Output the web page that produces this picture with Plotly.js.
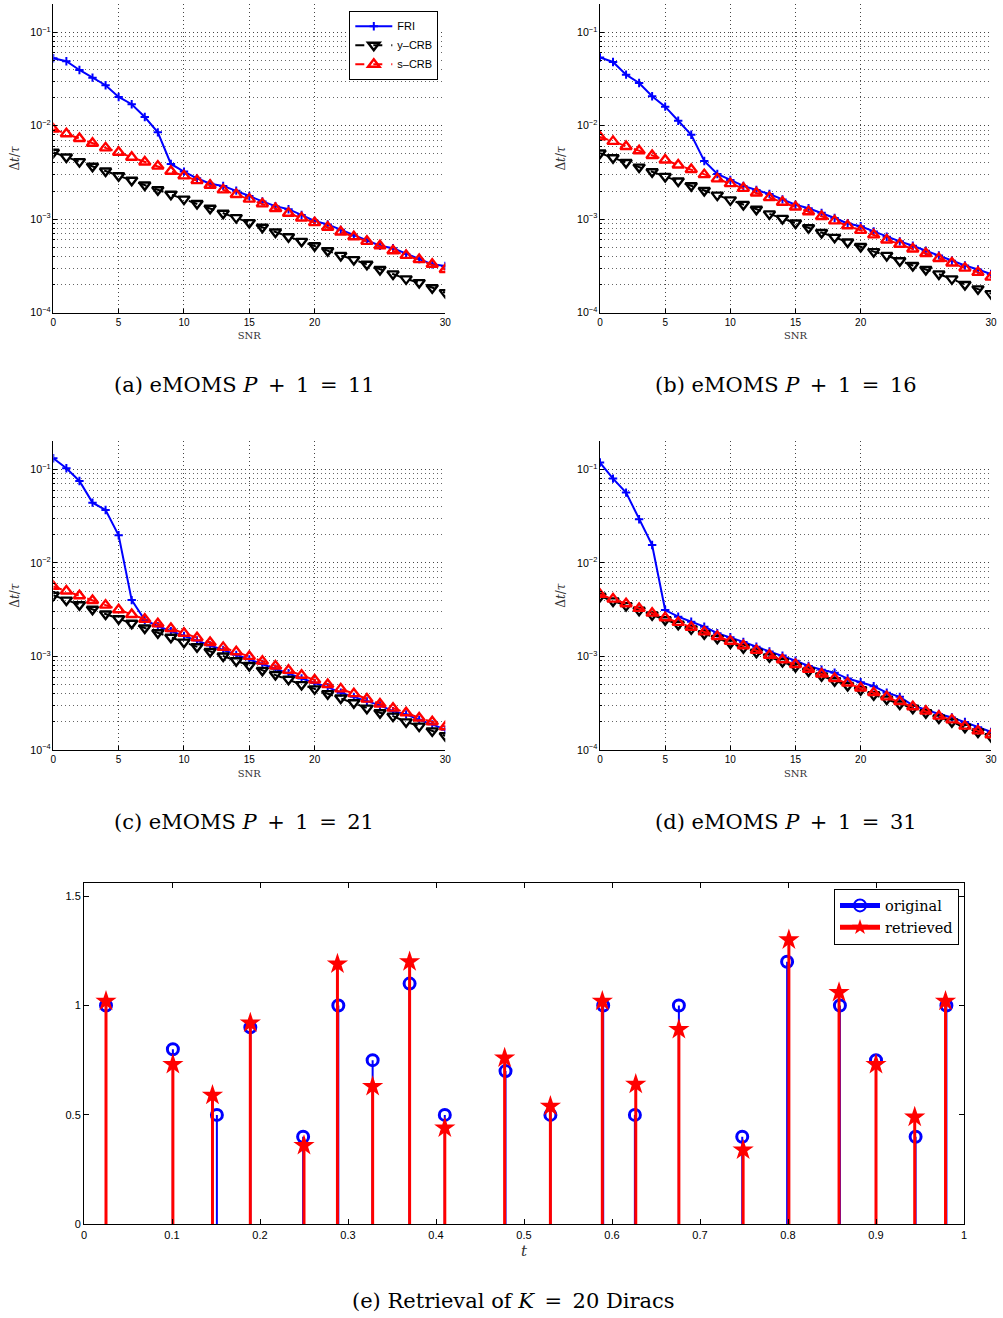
<!DOCTYPE html>
<html><head><meta charset="utf-8">
<script src="https://cdn.plot.ly/plotly-3.0.1.min.js"></script>
<style>body{margin:0;background:#fff}#chart{width:1003px;height:1318px}</style>
</head><body><div id="chart"></div><script>
// ---------- data ----------
const snr = [0,1,2,3,4,5,6,7,8,9,10,11,12,13,14,15,16,17,18,19,20,21,22,23,24,25,26,27,28,29,30];

const friA  = [0.0527,0.049,0.0395,0.0327,0.0271,0.0203,0.0170,0.0124,0.0085,0.0039,0.00323,0.00274,0.0024,0.00227,0.00202,0.00177,0.00155,0.00138,0.00128,0.00111,0.00096,0.00088,0.00077,0.00067,0.00059,0.00052,0.00049,0.000425,0.000375,0.000329,0.000316];
const ycrbA = [0.0052,0.00463,0.00413,0.00368,0.00328,0.00292,0.00261,0.00232,0.00207,0.00185,0.00164,0.00147,0.00131,0.00116,0.00104,0.00092,0.00082,0.00073,0.00065,0.00058,0.00052,0.00046,0.00041,0.00037,0.00033,0.00029,0.00026,0.00023,0.00021,0.000185,0.000164];
const scrbA = [0.0092,0.0082,0.0073,0.0065,0.0058,0.0052,0.0046,0.0041,0.0037,0.00326,0.00291,0.00259,0.00231,0.00206,0.00184,0.00164,0.00146,0.00130,0.00116,0.00103,0.00092,0.00082,0.00073,0.00065,0.00058,0.00052,0.00046,0.00041,0.00037,0.00033,0.00029];

const friB  = [0.0536,0.0481,0.0352,0.0287,0.0207,0.0160,0.0113,0.0080,0.0042,0.00305,0.00263,0.00227,0.00205,0.00186,0.00163,0.00143,0.00131,0.00117,0.00103,0.00090,0.00084,0.00074,0.00065,0.00058,0.00052,0.00046,0.00041,0.00036,0.00032,0.00029,0.000259];
const ycrbB = [0.0051,0.00455,0.00405,0.00361,0.00322,0.00287,0.00256,0.00228,0.00203,0.00181,0.00161,0.00144,0.00128,0.00114,0.00102,0.00091,0.00081,0.00072,0.00064,0.00057,0.00051,0.00045,0.00041,0.00036,0.00032,0.00029,0.00026,0.00023,0.00020,0.00018,0.00016];
const scrbB = [0.0076,0.0068,0.0060,0.0054,0.0048,0.0043,0.0038,0.0034,0.0030,0.0027,0.0024,0.00214,0.00191,0.00170,0.00152,0.00135,0.00120,0.00107,0.00096,0.00085,0.00076,0.00068,0.00060,0.00054,0.00048,0.00043,0.00038,0.00034,0.00030,0.00027,0.00024];

const friC  = [0.131,0.1026,0.075,0.044,0.0367,0.0197,0.0040,0.00245,0.0021,0.00186,0.00165,0.00148,0.00131,0.00117,0.00104,0.00093,0.00083,0.00074,0.00066,0.00058,0.00052,0.00047,0.00041,0.00037,0.00033,0.00030,0.00026,0.00024,0.00021,0.000188,0.000165];
const ycrbC = [0.0045,0.0040,0.00357,0.00319,0.00284,0.00253,0.00226,0.00201,0.00179,0.00160,0.00142,0.00127,0.00113,0.00101,0.00090,0.00080,0.00071,0.00064,0.00057,0.00050,0.00045,0.00040,0.00036,0.00032,0.00028,0.00025,0.00023,0.00020,0.00018,0.00016,0.000142];
const scrbC = [0.0056,0.0050,0.00445,0.00396,0.00353,0.00315,0.00281,0.00250,0.00223,0.00199,0.00177,0.00158,0.00141,0.00125,0.00112,0.00100,0.00089,0.00079,0.00071,0.00063,0.00056,0.00050,0.00045,0.00040,0.00035,0.00031,0.00028,0.00025,0.00022,0.00020,0.000177];

const friD  = [0.118,0.0795,0.0563,0.0292,0.0155,0.00313,0.00266,0.00235,0.00208,0.00177,0.00160,0.00143,0.00127,0.00113,0.00102,0.00090,0.00079,0.00072,0.00067,0.00058,0.00053,0.00048,0.00041,0.00037,0.00030,0.00027,0.000243,0.000223,0.000199,0.000175,0.000156];
const ycrbD = [0.0044,0.00392,0.00349,0.00311,0.00278,0.00247,0.00221,0.00197,0.00175,0.00156,0.00139,0.00124,0.00111,0.00099,0.00088,0.00078,0.00070,0.00062,0.00055,0.00049,0.00044,0.00039,0.00035,0.00031,0.00028,0.00025,0.00022,0.00020,0.000175,0.000156,0.000139];
const scrbD = [0.0046,0.0041,0.00365,0.00326,0.00290,0.00259,0.00231,0.00205,0.00183,0.00163,0.00145,0.00130,0.00116,0.00103,0.00092,0.00082,0.00073,0.00065,0.00058,0.00052,0.00046,0.00041,0.00037,0.00033,0.00029,0.00026,0.00023,0.00021,0.00018,0.00016,0.000145];

const tOrig = [0.025,0.101,0.151,0.189,0.249,0.289,0.328,0.370,0.410,0.479,0.530,0.590,0.626,0.676,0.748,0.799,0.859,0.900,0.945,0.980];
const aOrig = [1.0,0.8,0.5,0.9,0.4,1.0,0.75,1.1,0.5,0.7,0.5,1.0,0.5,1.0,0.4,1.2,1.0,0.75,0.4,1.0];
const tRetr = [0.025,0.101,0.146,0.189,0.250,0.288,0.328,0.370,0.410,0.478,0.530,0.589,0.627,0.676,0.749,0.801,0.858,0.900,0.944,0.979];
const aRetr = [1.02,0.73,0.59,0.92,0.36,1.19,0.63,1.20,0.44,0.76,0.54,1.02,0.64,0.89,0.34,1.30,1.06,0.73,0.49,1.02];

const snrTicks = [0,5,10,15,20,30];
const tTicks = [0,0.1,0.2,0.3,0.4,0.5,0.6,0.7,0.8,0.9,1];
const tTickText = ['0','0.1','0.2','0.3','0.4','0.5','0.6','0.7','0.8','0.9','1'];
const ampTicks = [0,0.5,1,1.5];
const ampTickText = ['0','0.5','1','1.5'];
const seriesNames = ['FRI','y\u2013CRB','s\u2013CRB'];
const stemNames = ['original','retrieved'];
const captions = [
  '(a) eMOMS <i>P</i>\u2002+\u20021\u2002=\u200211',
  '(b) eMOMS <i>P</i>\u2002+\u20021\u2002=\u200216',
  '(c) eMOMS <i>P</i>\u2002+\u20021\u2002=\u200221',
  '(d) eMOMS <i>P</i>\u2002+\u20021\u2002=\u200231',
  '(e) Retrieval of <i>K</i>\u2002=\u200220 Diracs'
];

// ---------- layout helpers ----------
const W = 1003, H = 1318;
const fx = p => p / W;
const fy = p => 1 - p / H;
const SANS = 'Liberation Sans, Arial, sans-serif';
const SERIF = 'DejaVu Serif, serif';
const DOTS = '1px,3px';

const panels = [
  {fri: friA, y: ycrbA, s: scrbA, x0: 53.3, x1: 445.3, top: 4.2,   bot: 312.7},
  {fri: friB, y: ycrbB, s: scrbB, x0: 600,  x1: 991,   top: 4.2,   bot: 312.7},
  {fri: friC, y: ycrbC, s: scrbC, x0: 53.3, x1: 445.3, top: 441.2, bot: 750},
  {fri: friD, y: ycrbD, s: scrbD, x0: 600,  x1: 991,   top: 441.2, bot: 750}
];

const traces = [];
const layout = {
  width: W, height: H, margin: {l: 0, r: 0, t: 0, b: 0},
  paper_bgcolor: '#fff', plot_bgcolor: '#fff', showlegend: true,
  annotations: [], font: {family: SANS, color: '#000'}
};

panels.forEach((p, i) => {
  const n = i + 1;
  const xa = n === 1 ? 'x' : 'x' + n, ya = n === 1 ? 'y' : 'y' + n;
  const first = i === 0;
  traces.push({x: snr, y: p.fri, xaxis: xa, yaxis: ya, name: seriesNames[0], mode: 'lines+markers',
    line: {color: '#0000ff', width: 2}, marker: {symbol: 'cross-thin', size: 6, line: {color: '#0000ff', width: 2}},
    showlegend: first, legend: 'legend'});
  traces.push({x: snr, y: p.y, xaxis: xa, yaxis: ya, name: seriesNames[1], mode: 'lines+markers',
    line: {color: '#000', width: 2, dash: 'dash'}, marker: {symbol: 'triangle-down-open', size: 10, color: '#000', line: {color: '#000', width: 2.4}},
    showlegend: first, legend: 'legend'});
  traces.push({x: snr, y: p.s, xaxis: xa, yaxis: ya, name: seriesNames[2], mode: 'lines+markers',
    line: {color: '#ff0000', width: 2, dash: 'dash'}, marker: {symbol: 'triangle-up-open', size: 10, color: '#ff0000', line: {color: '#ff0000', width: 2.4}},
    showlegend: first, legend: 'legend'});

  layout['xaxis' + (n === 1 ? '' : n)] = {
    domain: [fx(p.x0), fx(p.x1)], anchor: ya, range: [0, 30], tickmode: 'array', tickvals: snrTicks,
    ticks: 'inside', ticklen: 4, tickcolor: '#000', showline: true, linecolor: '#000', linewidth: 1,
    showgrid: true, gridcolor: '#444', griddash: DOTS, gridwidth: 1, zeroline: false,
    tickfont: {family: SANS, size: 10, color: '#000'},
    title: {text: 'SNR', font: {family: SERIF, size: 10, color: '#333'}, standoff: 5}
  };
  layout['yaxis' + (n === 1 ? '' : n)] = {
    domain: [fy(p.bot), fy(p.top)], anchor: xa, type: 'log', range: [-4, -0.7],
    dtick: 1, tick0: 0, exponentformat: 'power', showexponent: 'all',
    ticks: 'inside', ticklen: 4, tickcolor: '#000', showline: true, linecolor: '#000', linewidth: 1,
    showgrid: true, gridcolor: '#444', griddash: DOTS, gridwidth: 1, zeroline: false,
    minor: {dtick: 'D1', showgrid: true, gridcolor: '#666', griddash: DOTS, gridwidth: 1, ticks: 'inside', ticklen: 2, tickcolor: '#000'},
    tickfont: {family: SANS, size: 8.5, color: '#000'},
    title: {text: '\u0394<i>t</i>/<i>\u03c4</i>', font: {family: SERIF, size: 12, color: '#333'}, standoff: 8}
  };
});

// stems panel (e)
function stemArrays(t, a, size, col) {
  const xs = [], ys = [], sz = [], cl = [];
  t.forEach((ti, k) => {
    xs.push(ti, ti, null); ys.push(a[k], 0, null);
    sz.push(size, 0, 0); cl.push(col, 'rgba(0,0,0,0)', 'rgba(0,0,0,0)');
  });
  return {xs, ys, sz, cl};
}
const so = stemArrays(tOrig, aOrig, 11, '#0000ff');
const sr = stemArrays(tRetr, aRetr, 16, '#ff0000');
traces.push({x: so.xs, y: so.ys, xaxis: 'x5', yaxis: 'y5', name: stemNames[0], mode: 'lines+markers',
  line: {color: '#0000ff', width: 2}, connectgaps: false,
  marker: {symbol: 'circle-open', size: so.sz, color: so.cl, opacity: 1, line: {width: 3}}, legend: 'legend2'});
traces.push({x: sr.xs, y: sr.ys, xaxis: 'x5', yaxis: 'y5', name: stemNames[1], mode: 'lines+markers',
  line: {color: '#ff0000', width: 3}, connectgaps: false,
  marker: {symbol: 'star', size: sr.sz, color: sr.cl, opacity: 1, line: {width: 0}}, legend: 'legend2'});

layout.xaxis5 = {domain: [fx(84), fx(964)], anchor: 'y5', range: [0, 1], tickmode: 'array', tickvals: tTicks, ticktext: tTickText,
  ticks: 'inside', ticklen: 5, tickcolor: '#000', showline: true, mirror: 'ticks', linecolor: '#000', linewidth: 1,
  showgrid: false, zeroline: false, tickfont: {family: SANS, size: 11, color: '#000'},
  title: {text: '<i>t</i>', font: {family: SERIF, size: 15, color: '#333'}, standoff: 5}};
layout.yaxis5 = {domain: [fy(1224.3), fy(882.7)], anchor: 'x5', range: [0, 1.561], tickmode: 'array', tickvals: ampTicks, ticktext: ampTickText,
  ticks: 'inside', ticklen: 5, tickcolor: '#000', showline: true, mirror: 'ticks', linecolor: '#000', linewidth: 1,
  showgrid: false, zeroline: false, tickfont: {family: SANS, size: 11, color: '#000'}};

layout.legend = {x: fx(349.3), y: fy(10.7), xanchor: 'left', yanchor: 'top', bgcolor: '#fff', bordercolor: '#000', borderwidth: 1,
  font: {family: SANS, size: 11, color: '#000'}, itemwidth: 37, tracegroupgap: 0};
layout.legend2 = {x: fx(834), y: fy(888.5), xanchor: 'left', yanchor: 'top', bgcolor: '#fff', bordercolor: '#000', borderwidth: 1,
  font: {family: SERIF, size: 14.5, color: '#000'}, itemwidth: 40, tracegroupgap: 0, itemsizing: 'constant'};

const capPos = [[244, 385], [786, 385], [244, 822], [786, 822], [513, 1301]];
captions.forEach((c, i) => {
  layout.annotations.push({text: c, xref: 'paper', yref: 'paper', x: fx(capPos[i][0]), y: fy(capPos[i][1]),
    xanchor: 'center', yanchor: 'middle', showarrow: false, font: {family: SERIF, size: 21, color: '#000'}});
});

Plotly.newPlot('chart', traces, layout, {displayModeBar: false, staticPlot: true});
</script></body></html>
